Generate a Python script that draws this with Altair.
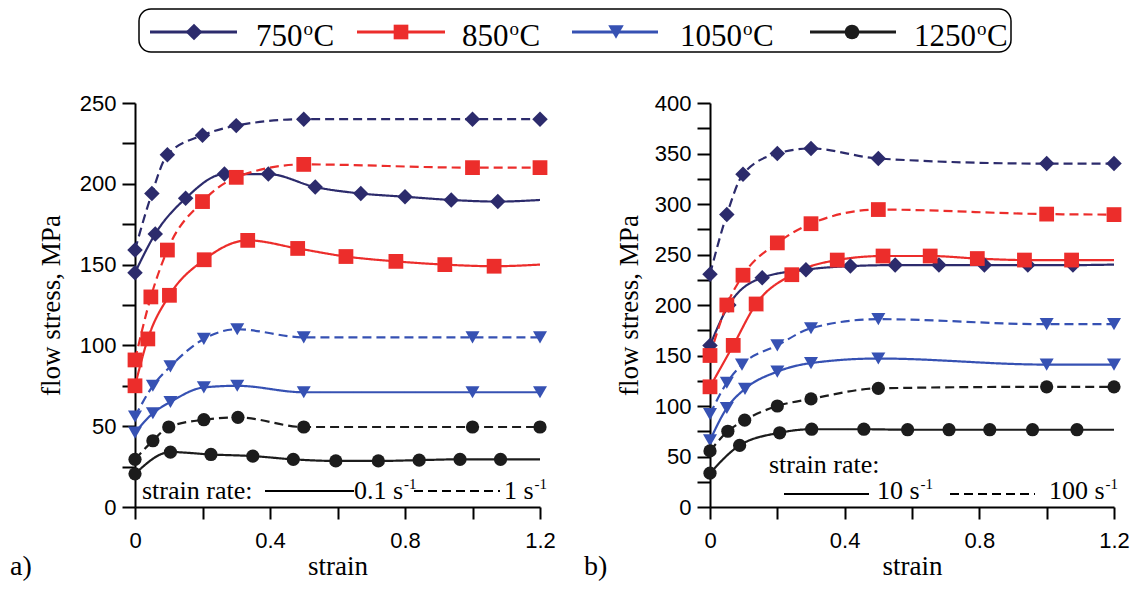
import altair as alt
import pandas as pd

# ---------------- data ----------------
temps = ["750oC", "850oC", "1050oC", "1250oC"]
colors = ["#2c2b6c", "#ec2d2b", "#3651b3", "#1c1c1c"]
shapes = ["diamond", "square", "triangle-down", "circle"]
sizes = [240, 175, 200, 175]

# panel a) strain rate 0.1 s-1 (solid) and 1 s-1 (dashed)
a750_s_x = [0, 0.06, 0.15, 0.265, 0.395, 0.534, 0.669, 0.80, 0.937, 1.075]
a750_s_y = [145, 169, 191, 206, 206, 198, 194, 192, 190, 189]
a750_s_end = 190
a750_d_x = [0, 0.05, 0.096, 0.2, 0.3, 0.5, 1.0, 1.2]
a750_d_y = [159, 194, 218, 230, 236, 240, 240, 240]

a850_s_x = [0, 0.038, 0.102, 0.205, 0.334, 0.482, 0.625, 0.773, 0.918, 1.064]
a850_s_y = [75, 104, 131, 153, 165, 160, 155, 152, 150, 149]
a850_s_end = 150
a850_d_x = [0, 0.047, 0.096, 0.2, 0.3, 0.5, 1.0, 1.2]
a850_d_y = [91, 130, 159, 189, 204, 212, 210, 210]

a1050_s_x = [0, 0.053, 0.105, 0.204, 0.303, 0.5, 1.0, 1.2]
a1050_s_y = [46, 58, 65, 74, 75, 71, 71, 71]
a1050_d_x = [0, 0.053, 0.105, 0.204, 0.303, 0.5, 1.0, 1.2]
a1050_d_y = [56, 75, 87, 104, 110, 105, 105, 105]

a1250_s_x = [0, 0.105, 0.225, 0.349, 0.469, 0.595, 0.721, 0.842, 0.963, 1.083]
a1250_s_y = [20.5, 34, 32.5, 31.5, 29.5, 28.5, 28.5, 29, 29.5, 29.5]
a1250_s_end = 29.5
a1250_d_x = [0, 0.053, 0.1, 0.204, 0.305, 0.5, 1.0, 1.2]
a1250_d_y = [29.5, 41, 49.5, 54, 55.5, 49.5, 49.5, 49.5]

# panel b) strain rate 10 s-1 (solid) and 100 s-1 (dashed)
b750_s_x = [0, 0.056, 0.155, 0.285, 0.417, 0.55, 0.68, 0.815, 0.944, 1.078]
b750_s_y = [160, 200, 227, 235, 238.5, 239.5, 239.5, 239.5, 239.5, 239.5]
b750_s_end = 240
b750_d_x = [0, 0.05, 0.098, 0.2, 0.3, 0.5, 1.0, 1.2]
b750_d_y = [230.5, 289.5, 329.5, 350, 355, 345, 340, 340]

b850_s_x = [0, 0.069, 0.137, 0.243, 0.378, 0.514, 0.654, 0.794, 0.934, 1.074]
b850_s_y = [119, 160, 201, 230, 244.5, 248.5, 248.5, 246, 244.5, 244.5]
b850_s_end = 244.5
b850_d_x = [0, 0.05, 0.098, 0.2, 0.3, 0.5, 1.0, 1.2]
b850_d_y = [150, 200, 229.5, 261.5, 280.5, 294.5, 290, 289.5]

b1050_s_x = [0, 0.05, 0.104, 0.2, 0.3, 0.5, 1.0, 1.2]
b1050_s_y = [66, 98, 117, 134, 142.5, 147, 141, 141]
b1050_d_x = [0, 0.05, 0.095, 0.2, 0.3, 0.5, 1.0, 1.2]
b1050_d_y = [92, 123, 141, 160, 177, 186, 181, 181]

b1250_s_x = [0, 0.088, 0.207, 0.302, 0.457, 0.587, 0.71, 0.831, 0.958, 1.09]
b1250_s_y = [33.5, 61, 73.5, 77, 77, 76.5, 76.5, 76.5, 76.5, 76.5]
b1250_s_end = 76.5
b1250_d_x = [0, 0.053, 0.103, 0.2, 0.3, 0.5, 1.0, 1.2]
b1250_d_y = [55.5, 75, 86, 100, 107, 117.5, 119, 119]

x_ticks = [0, 0.2, 0.4, 0.6, 0.8, 1.0, 1.2]
a_y_ticks = list(range(0, 251, 25))
b_y_ticks = list(range(0, 401, 25))


def rows(temp, style, xs, ys, end=None):
    out = [dict(temp=temp, style=style, strain=x, stress=y, marker=True) for x, y in zip(xs, ys)]
    if end is not None:
        out.append(dict(temp=temp, style=style, strain=1.2, stress=end, marker=False))
    return out


a_rows = (rows("750oC", "solid", a750_s_x, a750_s_y, a750_s_end) + rows("750oC", "dashed", a750_d_x, a750_d_y)
          + rows("850oC", "solid", a850_s_x, a850_s_y, a850_s_end) + rows("850oC", "dashed", a850_d_x, a850_d_y)
          + rows("1050oC", "solid", a1050_s_x, a1050_s_y) + rows("1050oC", "dashed", a1050_d_x, a1050_d_y)
          + rows("1250oC", "solid", a1250_s_x, a1250_s_y, a1250_s_end) + rows("1250oC", "dashed", a1250_d_x, a1250_d_y))
b_rows = (rows("750oC", "solid", b750_s_x, b750_s_y, b750_s_end) + rows("750oC", "dashed", b750_d_x, b750_d_y)
          + rows("850oC", "solid", b850_s_x, b850_s_y, b850_s_end) + rows("850oC", "dashed", b850_d_x, b850_d_y)
          + rows("1050oC", "solid", b1050_s_x, b1050_s_y) + rows("1050oC", "dashed", b1050_d_x, b1050_d_y)
          + rows("1250oC", "solid", b1250_s_x, b1250_s_y, b1250_s_end) + rows("1250oC", "dashed", b1250_d_x, b1250_d_y))

df_a = pd.DataFrame(a_rows)
df_b = pd.DataFrame(b_rows)

SERIF = "Liberation Serif"
SANS = "Liberation Sans"
W_A, W_B, H = 405, 404, 404

color_scale = alt.Scale(domain=temps, range=colors)
shape_scale = alt.Scale(domain=temps, range=shapes)
size_scale = alt.Scale(domain=temps, range=sizes)
dash_scale = alt.Scale(domain=["solid", "dashed"], range=[[1, 0], [9, 5]])

x_label_expr = "round(datum.value*10) % 4 == 0 ? (datum.value == 0 ? '0' : format(datum.value, '.1f')) : ''"
y_label_expr = "datum.value % 50 == 0 ? datum.label : ''"


def panel_data(df, ymax, yticks, title_pad):
    x = alt.X("strain:Q", scale=alt.Scale(domain=[0, 1.2], nice=False, zero=False),
              axis=alt.Axis(values=x_ticks, labelExpr=x_label_expr, title="strain", labelFlush=False))
    y = alt.Y("stress:Q", scale=alt.Scale(domain=[0, ymax], nice=False),
              axis=alt.Axis(values=yticks, labelExpr=y_label_expr, title="flow stress, MPa",
                            titlePadding=title_pad, labelFlush=False))
    base = alt.Chart(df)
    lines = base.mark_line(interpolate="monotone", strokeWidth=2.2).encode(
        x=x, y=y,
        color=alt.Color("temp:N", scale=color_scale, legend=None),
        strokeDash=alt.StrokeDash("style:N", scale=dash_scale, legend=None),
        detail="style:N",
        order="strain:Q",
    )
    pts = base.transform_filter("datum.marker").mark_point(filled=True, opacity=1).encode(
        x=x, y=y,
        color=alt.Color("temp:N", scale=color_scale, legend=None),
        shape=alt.Shape("temp:N", scale=shape_scale, legend=None),
        size=alt.Size("temp:N", scale=size_scale, legend=None),
    )
    return [lines, pts]


_one = pd.DataFrame({"t": [""]})


def txt(x, y, s, size=26, font=SERIF, align="left"):
    return alt.Chart(pd.DataFrame({"t": [s]})).mark_text(
        align=align, baseline="alphabetic", font=font, fontSize=size, color="black"
    ).encode(x=alt.value(x), y=alt.value(y), text="t:N")


def seg(x1, x2, y, color="black", dash=None, width=2):
    kw = dict(color=color, strokeWidth=width)
    if dash is not None:
        kw["strokeDash"] = dash
    return alt.Chart(_one).mark_rule(**kw).encode(x=alt.value(x1), x2=alt.value(x2), y=alt.value(y))


def sym(x, y, shape, size, color):
    return alt.Chart(_one).mark_point(shape=shape, filled=True, size=size, color=color, opacity=1).encode(
        x=alt.value(x), y=alt.value(y))


def rate_label(x, y, main, size=26):
    # main text then superscript "-1"
    widths = {"0": 0.5, "1": 0.5, ".": 0.25, " ": 0.25, "s": 0.389}
    w = sum(widths.get(c, 0.5) for c in main) * size
    return [txt(x, y, main, size), txt(x + w + 1, y - 10, "-1", 15)]


def temp_label(x, y, num, size=31):
    w = 0.5 * len(num) * size
    return [txt(x, y, num, size), txt(x + w + 1, y - 11, "o", 19), txt(x + w + 11, y, "C", size)]


# ---------------- legend (drawn inside left panel, above it) ----------------
legend_layers = [
    alt.Chart(_one).mark_rect(fill="white", fillOpacity=0, stroke="black", strokeWidth=1.5, cornerRadius=12).encode(
        x=alt.value(4), x2=alt.value(876), y=alt.value(-94), y2=alt.value(-51)),
]
leg_items = [(15, 102, 59, 121), (222, 310, 266, 327), (437, 523, 481, 545), (675, 761, 717, 779)]
for (x1, x2, xs, xt), t, c, sh, sz in zip(leg_items, temps, colors, shapes, sizes):
    legend_layers.append(seg(x1, x2, -71, c, width=3))
    legend_layers.append(sym(xs, -71, sh, sz + 40, c))
    legend_layers += temp_label(xt, -57, t.replace("oC", ""))

# ---------------- annotations ----------------
a_annot = [txt(7, 396, "strain rate:"), seg(130, 219, 388)] + rate_label(219, 396, "0.1 s") \
    + [seg(279, 365, 388, dash=[9, 5])] + rate_label(369, 396, "1 s") + [txt(-125, 472, "a)", 28)]
b_annot = [txt(59, 370, "strain rate:"), seg(74, 159, 391)] + rate_label(167, 396, "10 s") \
    + [seg(240, 325, 391, dash=[9, 5])] + rate_label(339, 396, "100 s") + [txt(-126, 472, "b)", 28)]

left = alt.layer(*(panel_data(df_a, 250, a_y_ticks, 14) + a_annot + legend_layers)).properties(width=W_A, height=H)
right = alt.layer(*(panel_data(df_b, 400, b_y_ticks, 11) + b_annot)).properties(width=W_B, height=H)

chart = alt.hconcat(left, right, spacing=170, bounds="flush").properties(
    padding={"left": 2, "top": 0, "right": 0, "bottom": 0}
).configure_view(stroke=None).configure_axis(
    domainColor="black", domainWidth=2, tickColor="black", tickWidth=2, tickSize=13,
    labelFont=SANS, labelFontSize=22, labelColor="black", grid=False,
    titleFont=SERIF, titleFontSize=27, titleFontWeight="normal", titleColor="black",
).configure_axisX(labelPadding=11, titlePadding=2, tickSize=12).configure_axisY(labelPadding=6)

chart.save("out.html", embed_options={"renderer": "svg", "actions": False})
